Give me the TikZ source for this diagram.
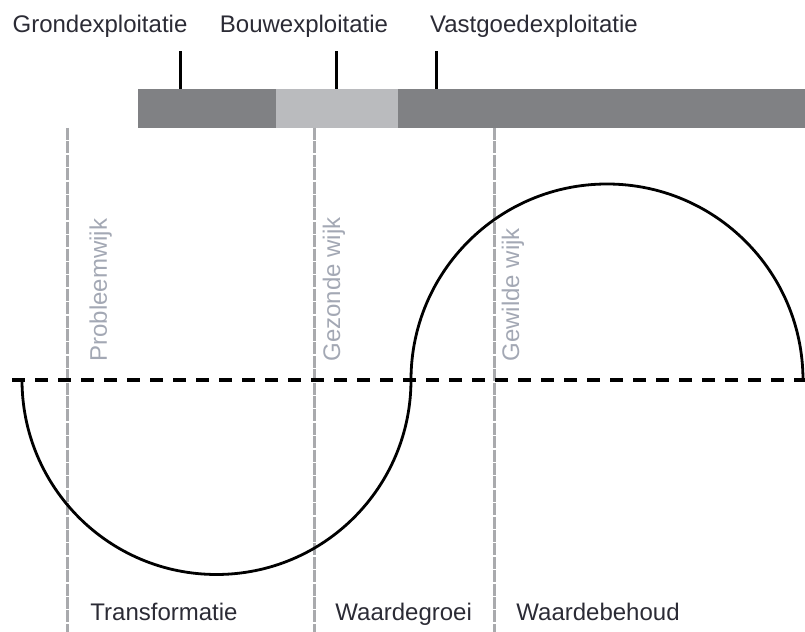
\documentclass[tikz,border=0pt]{standalone}
\usepackage{fontspec}
\setmainfont{Liberation Sans}
\usetikzlibrary{positioning}

\definecolor{bardark}{HTML}{808184}
\definecolor{barlight}{HTML}{BABBBE}
\definecolor{guidegray}{HTML}{A9AAAD}
\definecolor{labelgray}{HTML}{A3A8B4}
\definecolor{textdark}{HTML}{2B2B35}

\begin{document}
\begin{tikzpicture}[
  x=0.5pt, y=0.5pt,
  every node/.style={
    inner sep=0pt, text=textdark,
    font=\fontsize{12}{14}\selectfont
  },
  exploit/.style={anchor=base},
  zone/.style={rotate=90, anchor=base west, text=labelgray},
  phase/.style={anchor=base west},
  guide/.style={draw=guidegray, line width=1.5pt, dash pattern=on 6pt off 0.7pt},
  tick/.style={draw=black, line width=1.5pt}
]
\useasboundingbox (0,0) rectangle (805,632);

% balk met de exploitatievormen
\fill[bardark] (138,504) rectangle (805,543);
\fill[barlight] (276,504) rectangle (398,543);

\node[exploit] (grond) at (100,599) {Grondexploitatie};
\node[exploit] (bouw) at (304,599) {Bouwexploitatie};
\node[exploit] (vastgoed) at (534,599) {Vastgoedexploitatie};

\coordinate (grondbar) at (180,543);
\coordinate (grondtop) at (180,581);
\coordinate (bouwbar) at (336,543);
\coordinate (bouwtop) at (336,581);
\coordinate (vastgoedbar) at (436,543);
\coordinate (vastgoedtop) at (436,581);

\draw[tick] (grondbar) -- (grondtop);
\draw[tick] (bouwbar) -- (bouwtop);
\draw[tick] (vastgoedbar) -- (vastgoedtop);

% grenzen tussen de fasen
\foreach \x in {67,314,494}
  \draw[guide] (\x,504) -- (\x,0);

\node[zone] (probleem) at (107,270) {Probleemwijk};
\node[zone] (gezond) at (340,270) {Gezonde wijk};
\node[zone] (gewild) at (519,270) {Gewilde wijk};

% nullijn en waardecurve
\draw[line width=1.6pt, dash pattern=on 6.5pt off 5pt] (12,252) -- (805,252);
\draw[line width=1.4pt] (22,252)
  arc[start angle=180, end angle=360, radius=194.5]
  arc[start angle=180, end angle=0, radius=196];

\node[phase] (transformatie) at (90,11) {Transformatie};
\node[phase] (groei) at (335,11) {Waardegroei};
\node[phase] (behoud) at (516,11) {Waardebehoud};

\end{tikzpicture}
\end{document}
